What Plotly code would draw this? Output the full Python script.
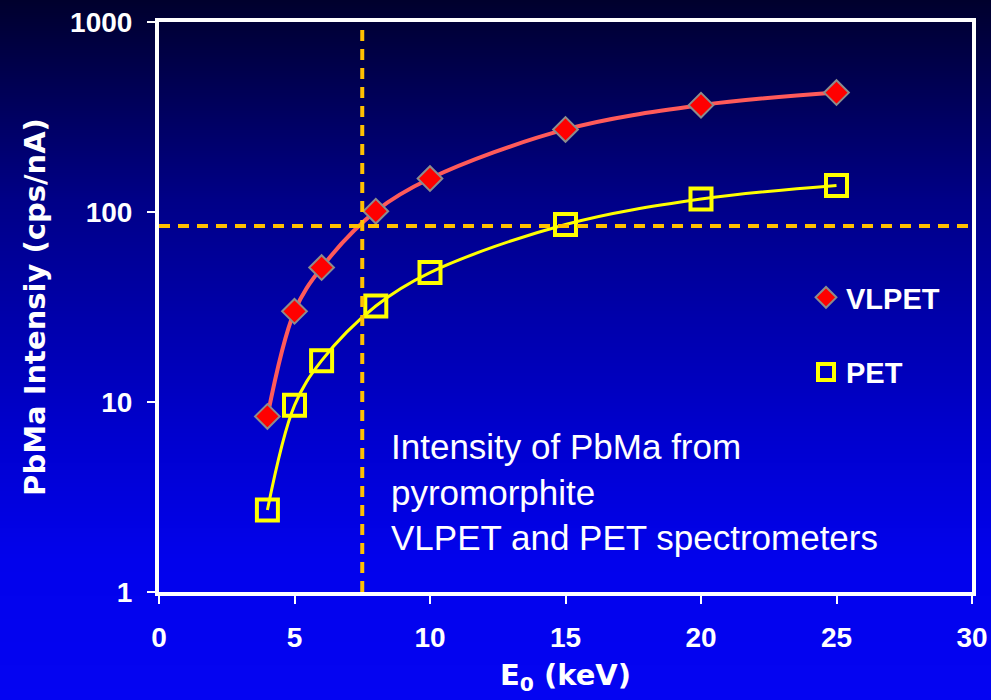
import base64
import struct
import zlib

import plotly.graph_objects as go

# ---------------- data ----------------
energy_kev = [4, 5, 6, 8, 10, 15, 20, 25]
vlpet_intensity = [8.4, 30, 51, 101, 150, 272, 365, 425]
pet_intensity = [2.7, 9.6, 16.5, 32, 48, 86, 117, 138]

x_ticks = [0, 5, 10, 15, 20, 25, 30]
y_ticks = [1, 10, 100, 1000]
y_tick_labels = ["1", "10", "100", "1000"]

ref_energy = 7.5        # vertical dashed reference line (keV)
ref_intensity = 84.5    # horizontal dashed reference line (cps/nA)

# ---------------- background gradient (PNG built in memory) ----------------
W_FIG, H_FIG = 991, 700
stops = [(0, (0, 0, 45)), (200, (0, 0, 135)), (430, (0, 0, 205)),
         (560, (2, 2, 236)), (700, (4, 4, 242))]


def grad_color(y):
    for (y0, c0), (y1, c1) in zip(stops[:-1], stops[1:]):
        if y0 <= y <= y1:
            t = (y - y0) / (y1 - y0)
            return tuple(int(round(a + (b - a) * t)) for a, b in zip(c0, c1))
    return stops[-1][1]


def make_png(h, w=4):
    raw = b"".join(b"\x00" + bytes(grad_color(y)) * w for y in range(h))

    def chunk(tag, data):
        return (struct.pack(">I", len(data)) + tag + data +
                struct.pack(">I", zlib.crc32(tag + data) & 0xFFFFFFFF))

    png = (b"\x89PNG\r\n\x1a\n" +
           chunk(b"IHDR", struct.pack(">IIBBBBB", w, h, 8, 2, 0, 0, 0)) +
           chunk(b"IDAT", zlib.compress(raw, 9)) +
           chunk(b"IEND", b""))
    return "data:image/png;base64," + base64.b64encode(png).decode()


# plot-area geometry (pixels)
L, R, T, B = 159, 19, 22, 108
PW = W_FIG - L - R
PH = H_FIG - T - B

FONT = "Liberation Sans, Arial, sans-serif"
TITLE_FONT = "DejaVu Sans, Verdana, sans-serif"
WHITE = "#FFFFFF"

fig = go.Figure()

# smooth curves through the points
fig.add_trace(go.Scatter(
    x=energy_kev, y=vlpet_intensity, mode="lines",
    line=dict(color="#FF5A5A", width=4, shape="spline", smoothing=1.0),
    showlegend=False, hoverinfo="skip"))
fig.add_trace(go.Scatter(
    x=energy_kev, y=pet_intensity, mode="lines",
    line=dict(color="#FFFF00", width=3, shape="spline", smoothing=1.0),
    showlegend=False, hoverinfo="skip"))

# markers
fig.add_trace(go.Scatter(
    x=energy_kev, y=vlpet_intensity, mode="markers", name="VLPET",
    legendgroup="a",
    marker=dict(symbol="diamond", size=19, color="#FF0000",
                line=dict(color="#8C8C8C", width=2))))
fig.add_trace(go.Scatter(
    x=energy_kev, y=pet_intensity, mode="markers", name="PET",
    legendgroup="b",
    marker=dict(symbol="square-open", size=21, color="#FFFF00",
                line=dict(color="#FFFF00", width=4))))

# dashed reference lines
fig.add_shape(type="line", xref="x", yref="paper", x0=ref_energy, x1=ref_energy,
              y0=0, y1=1, line=dict(color="#FFC000", width=4, dash="11px,8px"))
fig.add_shape(type="line", xref="paper", yref="y", x0=0, x1=1.004,
              y0=ref_intensity, y1=ref_intensity,
              line=dict(color="#FFC000", width=4, dash="11px,8px"))

fig.add_annotation(
    xref="paper", yref="paper", x=(389 - L) / PW, y=(H_FIG - B - 425) / PH,
    xanchor="left", yanchor="top", align="left", showarrow=False,
    text="Intensity of PbMa from<br>pyromorphite<br>VLPET and PET spectrometers",
    font=dict(family=FONT, size=35, color=WHITE))

fig.update_layout(
    width=W_FIG, height=H_FIG,
    margin=dict(l=L, r=R, t=T, b=B, autoexpand=False),
    paper_bgcolor="#00007A", plot_bgcolor="rgba(0,0,0,0)",
    font=dict(family=FONT, color=WHITE),
    images=[dict(source=make_png(H_FIG), xref="paper", yref="paper",
                 x=-L / PW, y=1 + T / PH, sizex=W_FIG / PW, sizey=H_FIG / PH,
                 xanchor="left", yanchor="top", sizing="stretch", layer="below")],
    legend=dict(x=(806 - L) / PW, y=(H_FIG - B - 272) / PH,
                xanchor="left", yanchor="top", bgcolor="rgba(0,0,0,0)",
                font=dict(family=FONT, size=29, color=WHITE, weight="bold"),
                tracegroupgap=34, traceorder="grouped", itemsizing="trace"),
    xaxis=dict(range=[0, 30], tickvals=x_ticks, showgrid=False, zeroline=False,
               showline=True, linecolor=WHITE, linewidth=4, mirror=True,
               ticks="outside", ticklen=8, tickwidth=2, tickcolor=WHITE,
               ticklabelstandoff=9,
               tickfont=dict(family=FONT, size=28, color=WHITE, weight="bold"),
               title=dict(text="E<sub>0</sub> (keV)", standoff=14,
                          font=dict(family=TITLE_FONT, size=29, color=WHITE, weight="bold"))),
    yaxis=dict(type="log", range=[0, 3], tickvals=y_ticks, ticktext=y_tick_labels,
               showgrid=False, zeroline=False,
               showline=True, linecolor=WHITE, linewidth=4, mirror=True,
               ticks="outside", ticklen=8, tickwidth=2, tickcolor=WHITE,
               ticklabelstandoff=9,
               tickfont=dict(family=FONT, size=28, color=WHITE, weight="bold"),
               title=dict(text="PbMa Intensiy (cps/nA)", standoff=17,
                          font=dict(family=TITLE_FONT, size=29, color=WHITE, weight="bold"))),
)

fig.write_html(
    "out.html",
    config={"displayModeBar": False},
    post_script="document.body.style.margin='0';document.body.style.padding='0';",
)
